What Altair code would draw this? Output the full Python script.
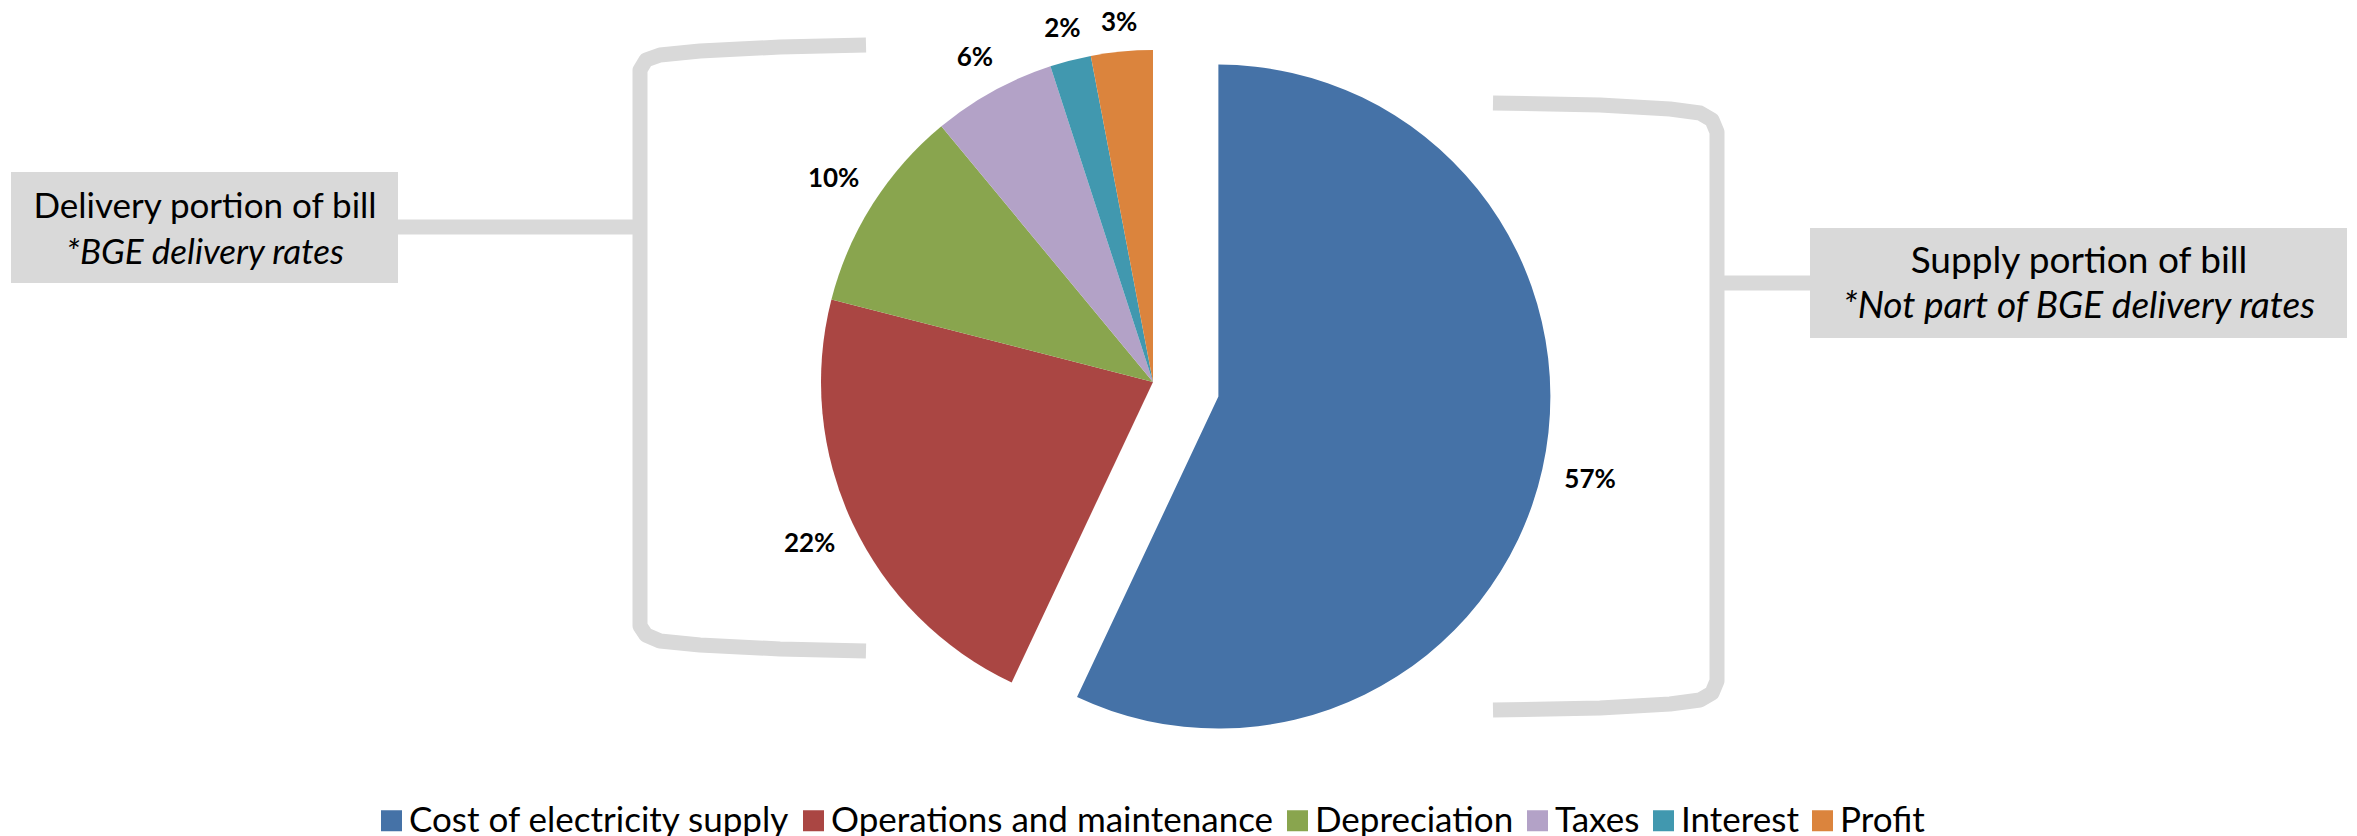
import altair as alt
import pandas as pd

# ---------------- data ----------------
categories = ["Cost of electricity supply", "Operations and maintenance",
              "Depreciation", "Taxes", "Interest", "Profit"]
values = [57, 22, 10, 6, 2, 3]
colors = ["#4572A7", "#AA4643", "#89A54E", "#B3A2C7", "#4198AF", "#DB843D"]

box_titles = ["Delivery portion of bill", "Supply portion of bill"]
box_notes = ["*BGE delivery rates", "*Not part of BGE delivery rates"]

# ---------------- layout (page pixels of the reference) ----------------
M = 8
W, H = 2341, 828
CX, CY = 1153 - M, 382 - M
R = 332
EXPLODE = "Cost of electricity supply"
OFF = 67
GAP, HW, HH = 24, 25, 2
FONT = "Lato"
GREY = "#D9D9D9"

box_rects = [(11, 172, 398, 283), (1810, 228, 2347, 338)]
box_text_x = [205, 2079]
box_title_y = [218, 273]
box_note_y = [264, 318]
box_font = [35, 37]

brackets = {
    "left": [(866, 45), (780, 47), (700, 51), (660, 55), (646, 60), (640, 70),
             (640, 626), (646, 635), (660, 641), (700, 645), (780, 649), (866, 651)],
    "right": [(1493, 103), (1600, 105), (1670, 109), (1700, 113), (1712, 120), (1717, 132),
              (1717, 681), (1712, 693), (1700, 700), (1670, 704), (1600, 708), (1493, 710)],
    "lconn": [(398, 227), (640, 227)],
    "rconn": [(1717, 283), (1810, 283)],
}

# ---------------- tables ----------------
pie_df = pd.DataFrame({"category": categories, "value": values,
                       "order": list(range(len(categories)))})

rect_df = pd.DataFrame([{"x": a - M, "y": b - M, "x2": c - M, "y2": d - M}
                        for a, b, c, d in box_rects])
title_df = pd.DataFrame({"x": [v - M for v in box_text_x],
                         "y": [v - M for v in box_title_y], "t": box_titles, "fs": box_font})
note_df = pd.DataFrame({"x": [v - M for v in box_text_x],
                        "y": [v - M for v in box_note_y], "t": box_notes, "fs": box_font})
br_rows = []
for k, pts in brackets.items():
    for i, (px, py) in enumerate(pts):
        br_rows.append({"id": k, "i": i, "x": px - M, "y": py - M})
br_df = pd.DataFrame(br_rows)

# ---------------- layers ----------------
rects = alt.Chart(rect_df).mark_rect(color=GREY).encode(
    x=alt.X("x:Q", scale=None, axis=None), x2="x2:Q",
    y=alt.Y("y:Q", scale=None, axis=None), y2="y2:Q")

lines = alt.Chart(br_df).mark_line(color=GREY, strokeWidth=15, strokeCap="butt",
                                   strokeJoin="round").encode(
    x=alt.X("x:Q", scale=None, axis=None),
    y=alt.Y("y:Q", scale=None, axis=None),
    detail="id:N", order="i:Q")

titles = alt.Chart(title_df).mark_text(font=FONT, align="center",
                                       baseline="alphabetic", color="#000000").encode(
    x=alt.X("x:Q", scale=None, axis=None), y=alt.Y("y:Q", scale=None, axis=None),
    size=alt.Size("fs:Q", scale=None), text="t:N")

notes = alt.Chart(note_df).mark_text(font=FONT, fontStyle="italic", align="center",
                                     baseline="alphabetic", color="#000000").encode(
    x=alt.X("x:Q", scale=None, axis=None), y=alt.Y("y:Q", scale=None, axis=None),
    size=alt.Size("fs:Q", scale=None), text="t:N")

pie_base = (alt.Chart(pie_df)
            .transform_window(cum="sum(value)", sort=[alt.SortField("order")], frame=[None, 0])
            .transform_joinaggregate(total="sum(value)")
            .transform_calculate(t0="2*PI*(datum.cum-datum.value)/datum.total")
            .transform_calculate(t1="2*PI*datum.cum/datum.total")
            .transform_calculate(mid="(datum.t0+datum.t1)/2")
            .transform_calculate(ex=f"datum.category == '{EXPLODE}' ? {OFF} : 0")
            .transform_calculate(cx=f"{CX} + datum.ex*sin(datum.mid)")
            .transform_calculate(cy=f"{CY} - datum.ex*cos(datum.mid)")
            .transform_calculate(lr=f"{R} + {GAP} + abs(sin(datum.mid))*{HW} + abs(cos(datum.mid))*{HH}")
            .transform_calculate(label="format(datum.value/datum.total, '.0%')"))

arcs = pie_base.mark_arc(radius=R, strokeWidth=0).encode(
    x=alt.X("cx:Q", scale=None, axis=None),
    y=alt.Y("cy:Q", scale=None, axis=None),
    theta=alt.Theta("t0:Q", scale=None, stack=False),
    theta2="t1:Q",
    color=alt.Color("category:N",
                    scale=alt.Scale(domain=categories, range=colors),
                    legend=alt.Legend(title=None, orient="none", direction="horizontal",
                                      legendX=366, legendY=795,
                                      symbolType="square", symbolSize=441,
                                      symbolStrokeWidth=0, symbolOpacity=1,
                                      labelFont=FONT, labelFontSize=35, labelColor="#000000",
                                      labelOffset=0, columnPadding=6, padding=0,
                                      labelLimit=1000)),
)

labels = pie_base.mark_text(font=FONT, fontSize=26, fontWeight="bold", align="center",
                            baseline="middle", color="#000000").encode(
    x=alt.X("cx:Q", scale=None, axis=None),
    y=alt.Y("cy:Q", scale=None, axis=None),
    theta=alt.Theta("mid:Q", scale=None, stack=False),
    radius=alt.Radius("lr:Q", scale=None),
    text="label:N",
)

chart = alt.layer(rects, lines, titles, notes, arcs, labels).properties(
    width=W, height=H, padding=0, autosize=alt.AutoSizeParams(type="none"),
    background="#FFFFFF",
).configure_view(strokeWidth=0)

chart.save("out.html", embed_options={"renderer": "svg", "actions": False})
